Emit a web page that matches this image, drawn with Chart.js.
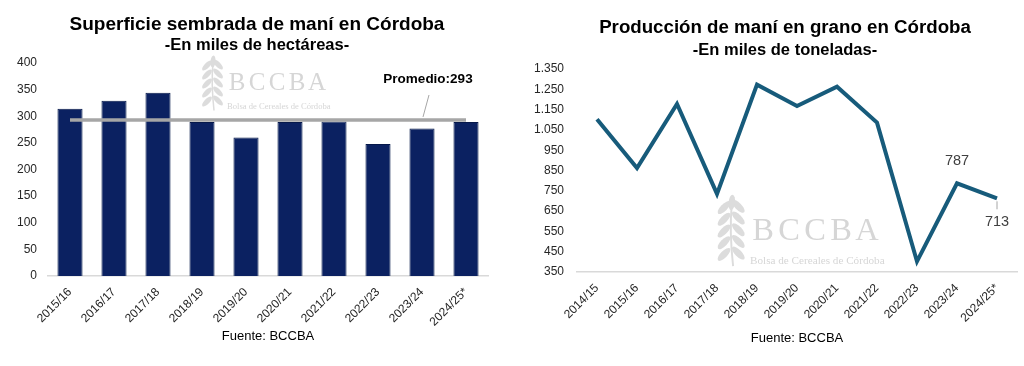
<!DOCTYPE html>
<html>
<head>
<meta charset="utf-8">
<script src="https://cdn.jsdelivr.net/npm/chart.js@4.4.1/dist/chart.umd.min.js"></script>
<style>
  html, body { margin: 0; padding: 0; background: #fff; }
  body { width: 1024px; height: 366px; position: relative; overflow: hidden; }
  .box { position: absolute; top: 0; height: 366px; }
  #boxLeft { left: 0; width: 500px; }
  #boxRight { left: 510px; width: 514px; }
</style>
</head>
<body>
<div class="box" id="boxLeft"><canvas id="areaChart"></canvas></div>
<div class="box" id="boxRight"><canvas id="prodChart"></canvas></div>

<script>
// superficie sembrada (miles de ha)
const areaSeasons = ['2015/16', '2016/17', '2017/18', '2018/19', '2019/20', '2020/21', '2021/22', '2022/23', '2023/24', '2024/25*'];
const areaValues = [314, 329, 344, 289, 260, 289, 290, 248, 277, 289];
const areaAverage = 293;
const areaTicks = [0, 50, 100, 150, 200, 250, 300, 350, 400];

// produccion (miles de t)
const prodSeasons = ['2014/15', '2015/16', '2016/17', '2017/18', '2018/19', '2019/20', '2020/21', '2021/22', '2022/23', '2023/24', '2024/25*'];
const prodValues = [1103, 862, 1178, 735, 1273, 1168, 1263, 1086, 402, 787, 713];
const prodTicks = [350, 450, 550, 650, 750, 850, 950, 1050, 1150, 1250, 1350];
const prodLabelled = [9, 10];

Chart.defaults.font.family = "'Liberation Sans', Arial, sans-serif";
Chart.defaults.color = '#262626';
Chart.defaults.animation = false;

const fmt = v => String(v).replace(/\B(?=(\d{3})+(?!\d))/g, '.');

// titulo y subtitulo (centrados donde estan en la imagen, no sobre el canvas)
const headingsPlugin = {
    id: 'headings',
    afterDraw(chart, args, opts) {
        const ctx = chart.ctx;
        ctx.save();
        ctx.fillStyle = '#000';
        ctx.textAlign = 'center';
        ctx.textBaseline = 'middle';
        opts.lines.forEach(l => {
            ctx.font = "bold " + l.size + "px 'Liberation Sans', Arial, sans-serif";
            ctx.fillText(l.text, opts.x, l.y);
        });
        ctx.restore();
    }
};

// marca de agua BCCBA
function drawWatermark(ctx, ox, oy, s) {
    ctx.save();
    ctx.fillStyle = '#dcdcdc';
    ctx.strokeStyle = '#dcdcdc';
    // espiga
    const cx = ox - 15 * s;
    ctx.lineWidth = 1.5 * s;
    ctx.beginPath();
    ctx.moveTo(cx + 2 * s, oy + 27 * s);
    ctx.quadraticCurveTo(cx - 1 * s, oy, cx + 1 * s, oy - 21 * s);
    ctx.stroke();
    for (let i = 0; i < 5; i++) {
        const ly = oy + 18 * s - i * 9 * s;
        ctx.beginPath();
        ctx.ellipse(cx - 5 * s, ly, 6.5 * s, 2.6 * s, -0.8, 0, Math.PI * 2);
        ctx.fill();
        ctx.beginPath();
        ctx.ellipse(cx + 6 * s, ly - 1 * s, 6.5 * s, 2.6 * s, 0.8, 0, Math.PI * 2);
        ctx.fill();
    }
    ctx.beginPath();
    ctx.ellipse(cx + 1 * s, oy - 22 * s, 2.5 * s, 6 * s, 0.1, 0, Math.PI * 2);
    ctx.fill();
    // texto
    ctx.fillStyle = '#d6d6d6';
    ctx.textAlign = 'center';
    ctx.textBaseline = 'middle';
    ctx.font = (25 * s) + "px 'Liberation Serif', 'DejaVu Serif', serif";
    'BCCBA'.split('').forEach((ch, i) => {
        ctx.fillText(ch, ox + (i + 0.5) * 20 * s, oy);
    });
    ctx.textAlign = 'left';
    ctx.font = (8.6 * s) + "px 'Liberation Serif', 'DejaVu Serif', serif";
    ctx.fillText('Bolsa de Cereales de Córdoba', ox, oy + 23 * s);
    ctx.restore();
}

const watermarkPlugin = {
    id: 'watermark',
    beforeDatasetsDraw(chart, args, opts) {
        drawWatermark(chart.ctx, opts.x, opts.y, opts.scale);
    }
};

// etiqueta del promedio
const averagePlugin = {
    id: 'averageLabel',
    afterDatasetsDraw(chart) {
        const ctx = chart.ctx;
        const px = chart.scales.x.getPixelForValue(8);
        const py = chart.scales.y.getPixelForValue(areaAverage);
        ctx.save();
        ctx.strokeStyle = '#a6a6a6';
        ctx.lineWidth = 1;
        ctx.beginPath();
        ctx.moveTo(px + 1, py - 3);
        ctx.lineTo(px + 7, py - 25);
        ctx.stroke();
        ctx.fillStyle = '#000';
        ctx.font = "bold 13.5px 'Liberation Sans', Arial, sans-serif";
        ctx.textAlign = 'center';
        ctx.textBaseline = 'middle';
        ctx.fillText('Promedio:' + areaAverage, px + 6, py - 41);
        ctx.restore();
    }
};

// etiquetas de los dos ultimos valores
const pointLabelPlugin = {
    id: 'pointLabels',
    afterDatasetsDraw(chart) {
        const ctx = chart.ctx;
        const meta = chart.getDatasetMeta(0);
        ctx.save();
        ctx.fillStyle = '#404040';
        ctx.font = "14.5px 'Liberation Sans', Arial, sans-serif";
        ctx.textAlign = 'center';
        ctx.textBaseline = 'middle';
        prodLabelled.forEach(i => {
            const pt = meta.data[i];
            if (i === prodValues.length - 1) {
                ctx.strokeStyle = '#a6a6a6';
                ctx.lineWidth = 1;
                ctx.beginPath();
                ctx.moveTo(pt.x, pt.y + 3);
                ctx.lineTo(pt.x, pt.y + 11);
                ctx.stroke();
                ctx.fillText(fmt(prodValues[i]), pt.x, pt.y + 24);
            } else {
                ctx.fillText(fmt(prodValues[i]), pt.x, pt.y - 22);
            }
        });
        ctx.restore();
    }
};

new Chart(document.getElementById('areaChart'), {
    type: 'bar',
    data: {
        labels: areaSeasons,
        datasets: [{
            type: 'line',
            label: 'Promedio',
            data: areaSeasons.map(() => areaAverage),
            borderColor: '#a6a6a6',
            borderWidth: 3.5,
            pointRadius: 0,
            borderCapStyle: 'butt',
            order: 0
        }, {
            label: 'Superficie',
            data: areaValues,
            backgroundColor: '#0b2161',
            borderColor: '#06184a',
            borderWidth: 1,
            categoryPercentage: 1,
            barPercentage: 0.57,
            order: 1
        }]
    },
    options: {
        responsive: true,
        maintainAspectRatio: false,
        layout: { padding: { top: 63, right: 12, bottom: 22, left: 0 } },
        plugins: {
            legend: { display: false },
            tooltip: { enabled: false },
            headings: {
                x: 257,
                lines: [
                    { text: 'Superficie sembrada de maní en Córdoba', size: 19, y: 25 },
                    { text: '-En miles de hectáreas-', size: 16.5, y: 45 }
                ]
            },
            watermark: { x: 227, y: 83.5, scale: 1 }
        },
        scales: {
            x: {
                grid: { display: false, drawTicks: false },
                border: { display: true, color: '#d9d9d9', width: 1.5 },
                ticks: { minRotation: 45, maxRotation: 45, padding: 9, font: { size: 12 } },
                title: { display: true, text: 'Fuente: BCCBA', color: '#000', font: { size: 13 }, padding: { top: 0, bottom: 0 } },
                afterFit(scale) { scale.height = 68; }
            },
            y: {
                min: areaTicks[0],
                max: areaTicks[areaTicks.length - 1],
                grid: { display: false, drawTicks: false },
                border: { display: false },
                ticks: { stepSize: areaTicks[1] - areaTicks[0], padding: 11, font: { size: 12 } },
                afterFit(scale) { scale.width = 48; }
            }
        }
    },
    plugins: [watermarkPlugin, averagePlugin, headingsPlugin]
});

new Chart(document.getElementById('prodChart'), {
    type: 'line',
    data: {
        labels: prodSeasons,
        datasets: [{
            label: 'Producción',
            data: prodValues,
            borderColor: '#175b7b',
            borderWidth: 4,
            pointRadius: 0,
            tension: 0,
            borderJoinStyle: 'miter'
        }]
    },
    options: {
        responsive: true,
        maintainAspectRatio: false,
        layout: { padding: { top: 69, right: 7, bottom: 20, left: 0 } },
        plugins: {
            legend: { display: false },
            tooltip: { enabled: false },
            headings: {
                x: 275,
                lines: [
                    { text: 'Producción de maní en grano en Córdoba', size: 18.7, y: 28 },
                    { text: '-En miles de toneladas-', size: 16.5, y: 50 }
                ]
            },
            watermark: { x: 240, y: 231, scale: 1.3 }
        },
        scales: {
            x: {
                offset: true,
                grid: { display: false, drawTicks: false },
                border: { display: true, color: '#d9d9d9', width: 1.5 },
                ticks: { minRotation: 45, maxRotation: 45, padding: 9, font: { size: 12 } },
                title: { display: true, text: 'Fuente: BCCBA', color: '#000', font: { size: 13 }, padding: { top: 0, bottom: 0 } },
                afterFit(scale) { scale.height = 74; }
            },
            y: {
                min: prodTicks[0],
                max: prodTicks[prodTicks.length - 1],
                grid: { display: false, drawTicks: false },
                border: { display: false },
                ticks: { stepSize: prodTicks[1] - prodTicks[0], padding: 13, font: { size: 12 }, callback: v => fmt(v) },
                afterFit(scale) { scale.width = 67; }
            }
        }
    },
    plugins: [watermarkPlugin, pointLabelPlugin, headingsPlugin]
});
</script>
</body>
</html>
